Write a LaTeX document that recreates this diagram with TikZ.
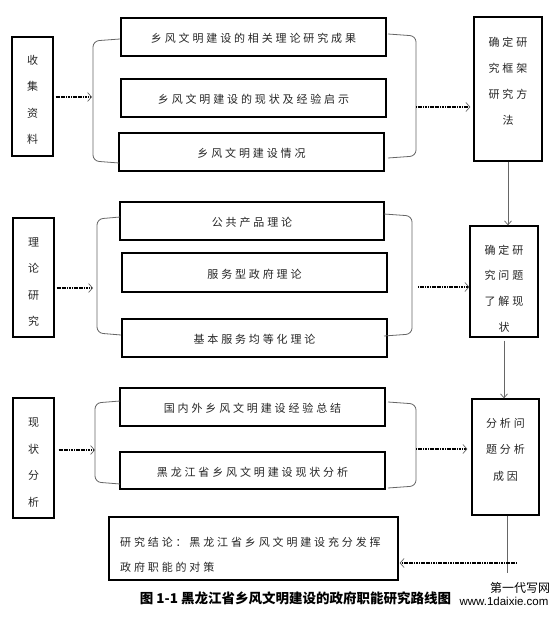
\documentclass[tikz,border=0pt]{standalone}
\usepackage{fontspec}
\setmainfont{Liberation Sans}
\newfontfamily\cjk[LetterSpace=26]{Noto Sans CJK SC}
\newfontfamily\cjkcap{Noto Sans CJK SC}
\usetikzlibrary{arrows.meta,calc}
\begin{document}
\begin{tikzpicture}[x=1pt,y=-1pt,
  box/.style={draw=black, line width=1.3pt, inner sep=0pt, text height=11pt, text depth=0pt,
    font=\cjk\fontsize{11}{26}\selectfont, text=black!85},
  txt/.style={inner sep=0pt, align=center, font=\cjk\fontsize{11}{26.5}\selectfont, text=black!85},
  brk/.style={draw=black!60, line width=0.8pt, rounded corners=6pt},
  dotarrow/.style={line width=1.7pt, dash pattern=on 1.2pt off 0.5pt, draw=black,
    -{Straight Barb[length=4pt,width=9pt,line width=0.7pt,color=black!60]}},
  vline/.style={draw=black!60, line width=0.8pt, -{Straight Barb[length=4pt,width=7pt,line width=0.7pt]}}
]
\fill[white] (0,0) rectangle (559,617);
\useasboundingbox (0,0) rectangle (559,617);

% left boxes
\node[box, minimum width=41pt, minimum height=119pt] (L1) at (32.5,96.5) {};
\node[txt] (L1t) at (32.5,100) {收\\集\\资\\料};
\node[box, minimum width=41pt, minimum height=119pt] (L2) at (33.5,277.5) {};
\node[txt] (L2t) at (33.5,282) {理\\论\\研\\究};
\node[box, minimum width=41pt, minimum height=120pt] (L3) at (33.5,458) {};
\node[txt] (L3t) at (33.5,462.5) {现\\状\\分\\析};

% middle boxes
\node[box, minimum width=265pt, minimum height=38pt] (A1) at (253.5,37) {乡风文明建设的相关理论研究成果};
\node[box, minimum width=265pt, minimum height=38pt] (A2) at (253.5,98) {乡风文明建设的现状及经验启示};
\node[box, minimum width=265pt, minimum height=38pt] (A3) at (251.5,152) {乡风文明建设情况};
\node[box, minimum width=264pt, minimum height=38pt] (B1) at (252,221) {公共产品理论};
\node[box, minimum width=265pt, minimum height=39pt] (B2) at (254.5,272.5) {服务型政府理论};
\node[box, minimum width=265pt, minimum height=38pt] (B3) at (254.5,338) {基本服务均等化理论};
\node[box, minimum width=265pt, minimum height=38pt] (C1) at (252.5,407) {国内外乡风文明建设经验总结};
\node[box, minimum width=265pt, minimum height=37pt] (C2) at (252.5,470.5) {黑龙江省乡风文明建设现状分析};

% conclusion box
\node[box, minimum width=289pt, minimum height=63pt] (D) at (253.5,548.5) {};
\node[txt, align=left, anchor=west, font=\cjk\fontsize{11}{25}\selectfont] (Dt) at (120,554.5)
  {研究结论：黑龙江省乡风文明建设充分发挥\\政府职能的对策};

% right boxes
\node[box, minimum width=68pt, minimum height=144pt] (R1) at (508,89) {};
\node[txt, font=\cjk\fontsize{11}{26}\selectfont] (R1t) at (508,81) {确定研\\究框架\\研究方\\法};
\node[box, minimum width=68pt, minimum height=111pt] (R2) at (504,281.5) {};
\node[txt, font=\cjk\fontsize{11}{25.7}\selectfont] (R2t) at (504,288.5) {确定研\\究问题\\了解现\\状};
\node[box, minimum width=67pt, minimum height=116pt] (R3) at (505.5,457) {};
\node[txt, font=\cjk\fontsize{11}{26.5}\selectfont] (R3t) at (505.5,449.5) {分析问\\题分析\\成因};

% brackets
\draw[brk] (120,39) -- (93,41) -- (93,161) -- (119,163);
\draw[brk] (388,34) -- (416,36) -- (416,156) -- (388,158);
\draw[brk] (120,217) -- (97,219) -- (97,333) -- (121,335);
\draw[brk] (384,214) -- (412,216) -- (412,334) -- (384,336);
\draw[brk] (120,401) -- (95,403) -- (95,482) -- (120,484);
\draw[brk] (388,402) -- (416,404) -- (416,486) -- (388,488);

\coordinate (b1l) at (93,97);
\coordinate (b1r) at (416,107);
\coordinate (b2l) at (97,288);
\coordinate (b2r) at (412,287);
\coordinate (b3l) at (95,450);
\coordinate (b3r) at (416,449);

\draw[dotarrow, shorten <=2pt, shorten >=1pt] (L1.east |- b1l) -- (b1l);
\draw[dotarrow, shorten >=3pt] (b1r) -- (R1.west |- b1r);
\draw[dotarrow, shorten <=2pt, shorten >=4pt] (L2.east |- b2l) -- (b2l);
\draw[dotarrow, shorten <=6pt] (b2r) -- (R2.west |- b2r);
\draw[dotarrow, shorten <=4pt] (L3.east |- b3l) -- (b3l);
\draw[dotarrow, shorten >=4pt] (b3r) -- (R3.west |- b3r);

% vertical links
\draw[vline] (R1.south) -- (R1.south |- R2.north);
\draw[vline, shorten <=3pt] (R2.south) -- (R2.south |- R3.north);
\coordinate (e) at (507,573);
\draw[draw=black!60, line width=0.8pt] (R3.south -| e) -- (e);
\coordinate (f) at (517,563);
\draw[dotarrow, shorten >=1pt] (f) -- (D.east |- f);

% caption
\node[inner sep=0pt, font=\cjkcap\bfseries\fontsize{13.5}{15}\selectfont] (cap) at (295.5,598)
  {图 1-1 黑龙江省乡风文明建设的政府职能研究路线图};
\node[inner sep=0pt, font=\cjkcap\fontsize{12}{14}\selectfont] (wm1) at (520,588) {第一代写网};
\node[inner sep=0pt, font=\fontsize{11.5}{13}\selectfont] (wm2) at (504,601) {www.1daixie.com};
\end{tikzpicture}
\end{document}
